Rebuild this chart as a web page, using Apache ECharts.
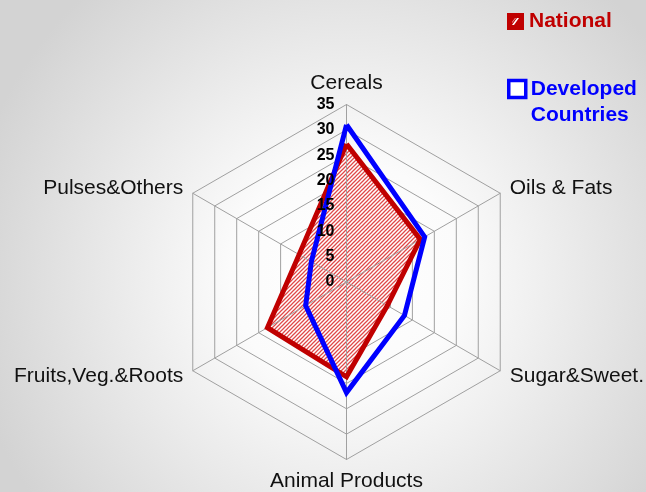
<!DOCTYPE html>
<html><head><meta charset="utf-8">
<script src="https://cdn.jsdelivr.net/npm/echarts@6/dist/echarts.min.js"></script>
<style>html,body{margin:0;padding:0;background:#fff}#c{width:646px;height:492px}</style>
</head><body><div id="c"></div>
<script>
// ---- data (reference order, clockwise from top) ----
const categories = ['Cereals', 'Oils & Fats', 'Sugar&Sweet.', 'Animal Products', 'Fruits,Veg.&Roots', 'Pulses&Others'];
const nationalValues = [27.2, 16.8, 9.3, 18.7, 18.0, 10.8];
const developedValues = [31.0, 17.8, 13.2, 21.8, 9.3, 8.0];
const seriesNames = ['National', 'Developed Countries'];
const axisMin = 0, axisMax = 35, axisStep = 5;

// ECharts lays indicators out counter-clockwise; reorder to get the clockwise reference layout
const order = [0, 5, 4, 3, 2, 1];
const reorder = arr => order.map(i => arr[i]);

const FONT = 'Liberation Sans, Arial, sans-serif';
const RED = '#c00000', BLUE = '#0000ff', GRID = '#a0a0a0';
const CENTER = [346.5, 282], RADIUS = 177.5;

function hatchCanvas() {
  const c = document.createElement('canvas'); c.width = 4; c.height = 4;
  const g = c.getContext('2d');
  g.fillStyle = '#ffffff'; g.fillRect(0, 0, 4, 4);
  g.strokeStyle = '#e04848'; g.lineWidth = 1.25;
  g.beginPath();
  g.moveTo(-1, 5); g.lineTo(5, -1);
  g.moveTo(-1, 1); g.lineTo(1, -1);
  g.moveTo(3, 5); g.lineTo(5, 3);
  g.stroke();
  return c;
}
function nationalIcon() {
  const c = document.createElement('canvas'); c.width = 17; c.height = 17;
  const g = c.getContext('2d');
  g.fillStyle = RED; g.fillRect(0, 0, 17, 17);
  g.fillStyle = '#ffffff';
  g.beginPath(); g.moveTo(5, 12); g.lineTo(10, 5); g.lineTo(12, 5); g.lineTo(7, 12); g.closePath(); g.fill();
  g.fillStyle = '#f0a0a0';
  g.beginPath(); g.moveTo(5, 9); g.lineTo(8, 5); g.lineTo(9, 5); g.lineTo(5, 10); g.closePath(); g.fill();
  return c.toDataURL();
}

const indicators = reorder(categories).map(n => ({ name: n, min: axisMin, max: axisMax }));
const plainIndicators = reorder(categories).map(() => ({ name: '', min: axisMin, max: axisMax }));
const splitN = (axisMax - axisMin) / axisStep;

const chart = echarts.init(document.getElementById('c'), null, { renderer: 'canvas' });
const option = {
  backgroundColor: {
    type: 'radial', x: 0.535, y: 0.56, r: 0.78,
    colorStops: [{ offset: 0, color: '#ffffff' }, { offset: 0.3, color: '#fbfbfb' }, { offset: 1, color: '#d3d3d3' }]
  },
  animation: false,
  legend: [
    {
      data: [{ name: seriesNames[0], icon: 'image://' + nationalIcon() }],
      left: 507, top: 11, padding: 0, itemWidth: 17, itemHeight: 17, itemGap: 0, selectedMode: false,
      textStyle: { color: RED, fontSize: 21, fontWeight: 'bold', fontFamily: FONT }
    },
    {
      data: [{ name: seriesNames[1], icon: 'rect', itemStyle: { color: '#ffffff', borderColor: BLUE, borderWidth: 3.5 } }],
      left: 507, top: 50, padding: 0, itemWidth: 17, itemHeight: 17, itemGap: 0, selectedMode: false,
      formatter: () => '\nDeveloped\nCountries',
      textStyle: { color: BLUE, fontSize: 21, fontWeight: 'bold', fontFamily: FONT, lineHeight: 26 }
    }
  ],
  radar: [
    {
      center: CENTER, radius: RADIUS, startAngle: 90, shape: 'polygon', splitNumber: splitN,
      indicator: indicators, nameGap: 11,
      axisName: { color: '#111', fontSize: 21, fontFamily: FONT },
      splitLine: { lineStyle: { color: GRID, width: 1 } },
      splitArea: { show: false },
      axisLine: { show: false }, axisTick: { show: false }, axisLabel: { show: false }
    },
    {
      z: 3,
      center: CENTER, radius: RADIUS, startAngle: 90, shape: 'polygon', splitNumber: splitN,
      indicator: plainIndicators,
      axisName: { show: false },
      splitLine: { show: false }, splitArea: { show: false },
      axisLine: { show: true, lineStyle: { color: GRID, width: 1 } },
      axisTick: { show: false }, axisLabel: { show: false }
    },
    {
      z: 6,
      center: CENTER, radius: RADIUS, startAngle: 90, shape: 'polygon', splitNumber: splitN,
      indicator: [{ name: '', min: axisMin, max: axisMax }],
      axisName: { show: false },
      splitLine: { show: false }, splitArea: { show: false },
      axisLine: { show: false }, axisTick: { show: false },
      axisLabel: { show: true, color: '#000', fontSize: 16, fontWeight: 'bold', fontFamily: FONT, margin: 12 }
    }
  ],
  series: [
    {
      type: 'radar', radarIndex: 0, z: 2, silent: true, symbol: 'none',
      lineStyle: { width: 0, opacity: 0 },
      areaStyle: { color: { image: hatchCanvas(), repeat: 'repeat' }, opacity: 1 },
      data: [{ name: seriesNames[0], value: reorder(nationalValues) }]
    },
    {
      type: 'radar', radarIndex: 0, z: 4, symbol: 'none',
      lineStyle: { color: RED, width: 5, join: 'miter' },
      itemStyle: { color: RED },
      data: [{ name: seriesNames[0], value: reorder(nationalValues) }]
    },
    {
      type: 'radar', radarIndex: 0, z: 5, symbol: 'none',
      lineStyle: { color: BLUE, width: 5, join: 'miter' },
      itemStyle: { color: BLUE },
      data: [{ name: seriesNames[1], value: reorder(developedValues) }]
    }
  ]
};
chart.setOption(option);
</script></body></html>
